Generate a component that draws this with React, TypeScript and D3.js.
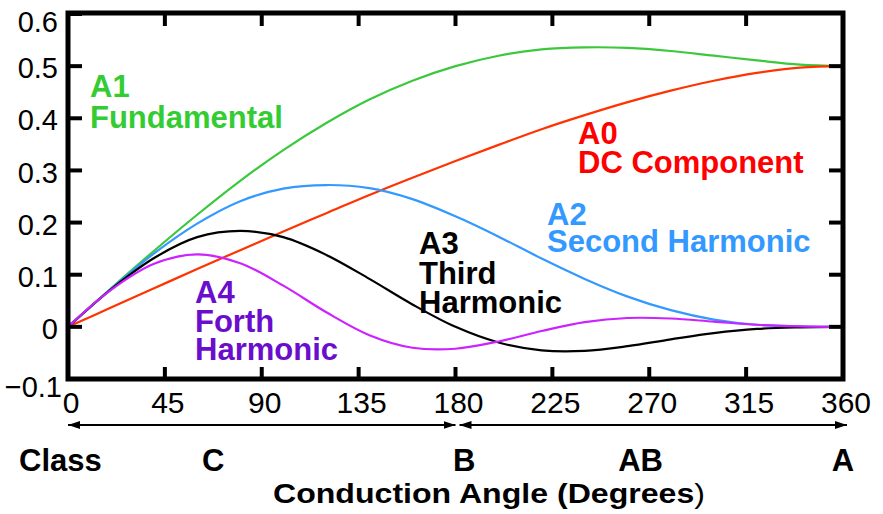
import React from 'react';
import * as d3 from 'd3';

// conduction angle (degrees) and normalised harmonic amplitudes
const angles = [0, 20, 40, 60, 80, 100, 120, 140, 160, 180, 200, 220, 240, 260, 280, 300, 320, 340, 360];
const a0 = [0, 0.037, 0.074, 0.111, 0.147, 0.183, 0.218, 0.253, 0.286, 0.318, 0.349, 0.379, 0.406, 0.431, 0.453, 0.472, 0.487, 0.497, 0.5];
const a1 = [0, 0.074, 0.146, 0.215, 0.28, 0.339, 0.391, 0.436, 0.472, 0.5, 0.52, 0.532, 0.536, 0.535, 0.529, 0.52, 0.511, 0.503, 0.5];
const a2 = [0, 0.073, 0.141, 0.198, 0.241, 0.265, 0.272, 0.266, 0.245, 0.212, 0.173, 0.131, 0.092, 0.058, 0.032, 0.014, 0.004, 0.001, 0];
const a3 = [0, 0.072, 0.132, 0.172, 0.184, 0.172, 0.138, 0.092, 0.043, 0, -0.03, -0.045, -0.046, -0.037, -0.024, -0.012, -0.004, -0.001, 0];
const a4 = [0, 0.071, 0.121, 0.139, 0.122, 0.079, 0.028, -0.016, -0.04, -0.042, -0.028, -0.008, 0.009, 0.017, 0.016, 0.01, 0.004, 0.001, 0];

const xTicks = [0, 45, 90, 135, 180, 225, 270, 315, 360];
const yTicks = [-0.1, 0, 0.1, 0.2, 0.3, 0.4, 0.5, 0.6];
const classNames = ['C', 'B', 'AB', 'A'];
const classAngles = [67.5, 184, 266, 360];

const series = [
  { values: a1, color: '#3cc83c' },
  { values: a0, color: '#ff3300' },
  { values: a2, color: '#3399ff' },
  { values: a3, color: '#000000' },
  { values: a4, color: '#cc22ff' },
];

const labels = [
  { lines: ['A1', 'Fundamental'], x: 90, y: 97, dy: 31, color: '#33cc33' },
  { lines: ['A0', 'DC Component'], x: 578, y: 144, dy: 29, color: '#ff0000' },
  { lines: ['A2', 'Second Harmonic'], x: 547, y: 225, dy: 27, color: '#3399ff' },
  { lines: ['A3', 'Third', 'Harmonic'], x: 419, y: 254, dy: 29.5, color: '#000000' },
  { lines: ['A4', 'Forth', 'Harmonic'], x: 195, y: 303, dy: 28.5, color: '#6a0dcc' },
];

const W = 883;
const H = 514;
const font = '"Liberation Sans", Arial, sans-serif';

export default function App() {
  const left = 68, right = 843, top = 14, bottom = 379;
  const x = d3.scaleLinear().domain([0, 360]).range([left, right]);
  const y = d3.scaleLinear().domain([-0.1, 0.6]).range([bottom, top]);

  const line = d3.line<number>()
    .x((_, i) => x(angles[i]))
    .y(d => y(d))
    .curve(d3.curveCatmullRom.alpha(0.5));

  const arrowY = 425;

  return (
    <svg width={W} height={H} style={{ position: 'fixed', left: 0, top: 0, background: '#fff' }}
      fontFamily={font}>
      <defs>
        <marker id="arr" viewBox="0 0 10 10" refX="10" refY="5" markerWidth="12" markerHeight="8"
          markerUnits="userSpaceOnUse" orient="auto-start-reverse" preserveAspectRatio="none">
          <path d="M0,0 L10,5 L0,10 Z" fill="#000" />
        </marker>
      </defs>

      {/* curves */}
      {series.map((s, i) => (
        <path key={i} d={line(s.values) || ''} fill="none" stroke={s.color} strokeWidth={2.2} />
      ))}

      {/* frame */}
      <rect x={left} y={top - 1} width={right - left} height={bottom - top + 1}
        fill="none" stroke="#000" strokeWidth={5} />

      {/* inward ticks */}
      {xTicks.slice(1, -1).map(t => (
        <g key={'xt' + t}>
          <line x1={x(t)} x2={x(t)} y1={top} y2={top + 12} stroke="#000" strokeWidth={4} />
          <line x1={x(t)} x2={x(t)} y1={bottom} y2={bottom - 12} stroke="#000" strokeWidth={4} />
        </g>
      ))}
      {yTicks.map(t => (
        <g key={'yt' + t}>
          <line x1={left} x2={left + 14} y1={y(t)} y2={y(t)} stroke="#000" strokeWidth={4} />
          {t > -0.1 && t < 0.6 && (
            <line x1={right} x2={right - 14} y1={y(t)} y2={y(t)} stroke="#000" strokeWidth={4} />
          )}
        </g>
      ))}

      {/* tick labels */}
      {yTicks.map(t => {
        const yy = t === 0.6 ? y(t) + 8 : t === -0.1 ? y(t) + 8 : y(t) + 2;
        return (
          <text key={'yl' + t} x={t === -0.1 ? 62 : 58} y={yy} dy="0.35em" textAnchor="end" fontSize={29}>
            {d3.format('')(t)}
          </text>
        );
      })}
      {xTicks.map(t => (
        <text key={'xl' + t} x={x(t) + 3} y={413} textAnchor="middle" fontSize={30}>{t}</text>
      ))}

      {/* class arrows */}
      <line x1={x(0)} x2={x(180)} y1={arrowY} y2={arrowY} stroke="#000" strokeWidth={2}
        markerStart="url(#arr)" markerEnd="url(#arr)" />
      <line x1={x(180) + 4} x2={x(360) + 4} y1={arrowY} y2={arrowY} stroke="#000" strokeWidth={2}
        markerStart="url(#arr)" markerEnd="url(#arr)" />

      <text x={19} y={471} fontSize={31} fontWeight="bold">Class</text>
      {classNames.map((c, i) => (
        <text key={c} x={x(classAngles[i])} y={471} textAnchor="middle" fontSize={31} fontWeight="bold">{c}</text>
      ))}
      <text x={273} y={503} fontSize={28} fontWeight="bold" textLength={432} lengthAdjust="spacingAndGlyphs">
        Conduction Angle (Degrees<tspan fontWeight="normal">)</tspan>
      </text>

      {/* series labels, one text per line */}
      {labels.map((l, i) => (
        <g key={i} fill={l.color}>
          {l.lines.map((s, j) => (
            <text key={j} x={l.x} y={l.y + j * l.dy} fontSize={31} fontWeight="bold">{s}</text>
          ))}
        </g>
      ))}
    </svg>
  );
}
